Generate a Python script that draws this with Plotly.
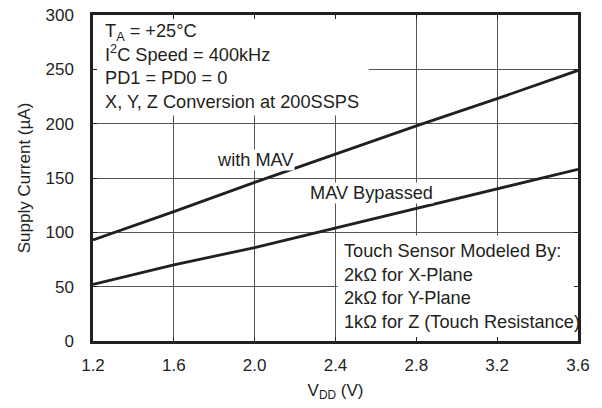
import plotly.graph_objects as go

vdd = [1.2, 1.6, 2.0, 2.4, 2.8, 3.2, 3.6]
with_mav = [93, 119, 146, 172, 198, 223, 249]
mav_bypassed = [52, 70, 86, 104, 122, 140, 158]

x_ticks = [1.2, 1.6, 2.0, 2.4, 2.8, 3.2, 3.6]
x_ticktext = ["1.2", "1.6", "2.0", "2.4", "2.8", "3.2", "3.6"]
y_ticks = [0, 50, 100, 150, 200, 250, 300]

INK = "#231f20"
FONT = "Liberation Sans, Arial, Helvetica, sans-serif"

fig = go.Figure()
fig.add_trace(go.Scatter(x=vdd, y=with_mav, mode="lines",
                         line=dict(color=INK, width=2.8), showlegend=False))
fig.add_trace(go.Scatter(x=vdd, y=mav_bypassed, mode="lines",
                         line=dict(color=INK, width=2.8), showlegend=False))

# white boxes that hide the grid behind the notes
fig.add_shape(type="rect", xref="x", yref="y", x0=1.2, x1=2.565, y0=207.6, y1=297.3,
              fillcolor="white", line=dict(width=0), layer="between")
fig.add_shape(type="rect", xref="x", yref="y", x0=2.41, x1=3.585, y0=3.7, y1=97,
              fillcolor="white", line=dict(width=0), layer="between")

fig.add_annotation(x=1.25, y=296, xref="x", yref="y", xanchor="left", yanchor="top",
                   align="left", showarrow=False,
                   text="T<sub>A</sub> = +25°C<br>I<sup>2</sup>C Speed = 400kHz<br>PD1 = PD0 = 0<br>X, Y, Z Conversion at 200SSPS",
                   font=dict(size=18.2, color=INK, family=FONT))
fig.add_annotation(x=2.43, y=93.5, xref="x", yref="y", xanchor="left", yanchor="top",
                   align="left", showarrow=False,
                   text="Touch Sensor Modeled By:<br>2kΩ for X-Plane<br>2kΩ for Y-Plane<br>1kΩ for Z (Touch Resistance)",
                   font=dict(size=18.2, color=INK, family=FONT))
fig.add_annotation(x=2.004, y=166.7, xref="x", yref="y", showarrow=False,
                   text="with MAV", bgcolor="white", borderpad=0,
                   font=dict(size=18.2, color=INK, family=FONT))
fig.add_annotation(x=2.58, y=136.6, xref="x", yref="y", showarrow=False,
                   text="MAV Bypassed", bgcolor="white", borderpad=0,
                   font=dict(size=18.2, color=INK, family=FONT))

axis_common = dict(showline=True, linecolor=INK, linewidth=2.5, mirror="allticks",
                   ticks="inside", ticklen=4, tickwidth=1, tickcolor=INK,
                   showgrid=True, gridcolor="#555555", gridwidth=1, zeroline=False,
                   automargin=False, ticklabeloverflow="allow",
                   tickfont=dict(size=17, color=INK, family=FONT))

fig.update_xaxes(range=[1.2, 3.6], tickvals=x_ticks, ticktext=x_ticktext,
                 title=dict(text="V<sub>DD</sub> (V)", font=dict(size=17, color=INK, family=FONT),
                            standoff=10),
                 ticklabelstandoff=7, **axis_common)
fig.update_yaxes(range=[0, 300], tickvals=y_ticks,
                 title=dict(text="Supply Current (µA)", font=dict(size=17, color=INK, family=FONT),
                            standoff=11),
                 ticklabelstandoff=13, **axis_common)

# the page body adds an 8px offset; margins compensate so the plot area sits near x 93-578, y 15-341
fig.update_layout(width=602, height=408, margin=dict(l=85, r=32, t=7, b=75, autoexpand=False),
                  plot_bgcolor="white", paper_bgcolor="white",
                  font=dict(family=FONT, color=INK))

fig.write_html("out.html")
